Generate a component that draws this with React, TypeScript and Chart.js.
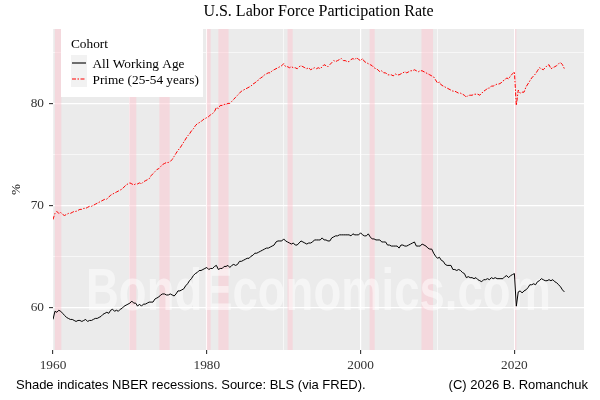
import { useEffect, useRef } from 'react'
import Chart from 'chart.js/auto'

// quarterly observations, first quarter of 1960 onwards
const START_YEAR = 1960
const allWorkingAge = [
  58.8, 59.6, 59.5, 59.7, // 1960
  59.6, 59.4, 59.2, 59.0,
  58.9, 58.8, 58.8, 58.7,
  58.6, 58.7, 58.7, 58.6,
  58.7, 58.8, 58.6, 58.7,
  58.7, 58.8, 58.9, 58.9, // 1965
  59.0, 59.1, 59.3, 59.4,
  59.5, 59.4, 59.7, 59.8,
  59.6, 59.7, 59.6, 59.8,
  59.9, 60.1, 60.2, 60.3,
  60.4, 60.6, 60.4, 60.4, // 1970
  60.1, 60.3, 60.1, 60.3,
  60.3, 60.4, 60.5, 60.5,
  60.5, 60.8, 60.9, 61.0,
  61.2, 61.3, 61.3, 61.2,
  61.2, 61.3, 61.2, 61.1, // 1975
  61.3, 61.6, 61.6, 61.7,
  61.8, 62.1, 62.3, 62.6,
  62.8, 63.1, 63.3, 63.4,
  63.6, 63.6, 63.7, 63.8,
  63.9, 63.7, 63.8, 63.8, // 1980
  64.0, 64.1, 63.7, 63.8,
  63.8, 64.0, 64.0, 64.1,
  63.9, 64.1, 64.2, 64.1,
  64.2, 64.5, 64.5, 64.6,
  64.7, 64.8, 64.8, 65.0, // 1985
  65.1, 65.3, 65.3, 65.4,
  65.5, 65.6, 65.7, 65.8,
  65.8, 65.9, 66.0, 66.1,
  66.4, 66.5, 66.5, 66.5,
  66.7, 66.5, 66.4, 66.3, // 1990
  66.2, 66.3, 66.1, 66.1,
  66.3, 66.5, 66.4, 66.3,
  66.2, 66.3, 66.3, 66.4,
  66.6, 66.6, 66.6, 66.6,
  66.8, 66.6, 66.6, 66.5, // 1995
  66.5, 66.8, 66.9, 67.0,
  67.0, 67.1, 67.1, 67.1,
  67.1, 67.1, 67.1, 67.0,
  67.2, 67.1, 67.1, 67.1,
  67.3, 67.1, 67.0, 67.0, // 2000
  67.2, 66.9, 66.7, 66.7,
  66.6, 66.6, 66.6, 66.4,
  66.4, 66.4, 66.1, 66.1,
  66.0, 66.0, 66.0, 66.0,
  65.8, 66.1, 66.1, 66.0, // 2005
  66.0, 66.1, 66.2, 66.3,
  66.4, 66.0, 66.0, 66.0,
  66.2, 66.1, 66.0, 65.8,
  65.7, 65.7, 65.3, 65.0,
  64.8, 64.9, 64.6, 64.5, // 2010
  64.2, 64.1, 64.1, 64.1,
  63.7, 63.7, 63.6, 63.7,
  63.6, 63.4, 63.3, 62.9,
  63.0, 62.9, 62.9, 62.8,
  62.9, 62.7, 62.6, 62.5, // 2015
  62.7, 62.7, 62.8, 62.7,
  62.9, 62.8, 62.9, 62.8,
  62.8, 62.8, 62.8, 63.0,
  63.1, 62.9, 63.1, 63.2,
  63.3, 60.1, 61.5, 61.6, // 2020
  61.4, 61.6, 61.7, 61.9,
  62.2, 62.2, 62.3, 62.2,
  62.5, 62.6, 62.8, 62.7,
  62.6, 62.6, 62.7, 62.6,
  62.7, 62.5, 62.4, 62.2, // 2025
  62.0, 61.7, 61.5,
]
const primeAge = [
  68.6, 69.2, 69.4, 69.2, // 1960
  69.3, 69.1, 69.0, 69.1,
  69.2, 69.2, 69.3, 69.4,
  69.4, 69.5, 69.6, 69.6,
  69.7, 69.7, 69.8, 69.9,
  69.9, 70.0, 70.1, 70.2, // 1965
  70.3, 70.4, 70.5, 70.6,
  70.6, 70.8, 71.0, 71.1,
  71.2, 71.3, 71.4, 71.5,
  71.6, 71.8, 72.0, 72.1,
  72.2, 72.1, 72.0, 72.1, // 1970
  72.1, 72.2, 72.1, 72.3,
  72.4, 72.5, 72.6, 72.9,
  73.1, 73.3, 73.5, 73.6,
  73.8, 74.0, 74.1, 74.2,
  74.2, 74.3, 74.5, 74.8, // 1975
  75.1, 75.4, 75.6, 75.9,
  76.2, 76.5, 76.8, 77.0,
  77.3, 77.5, 77.8, 78.0,
  78.1, 78.2, 78.4, 78.5,
  78.6, 78.7, 78.9, 79.0, // 1980
  79.2, 79.6, 79.5, 79.8,
  79.8, 79.9, 79.9, 80.0,
  80.0, 80.2, 80.4, 80.6,
  80.8, 81.0, 81.2, 81.3,
  81.4, 81.5, 81.6, 81.7, // 1985
  81.9, 82.0, 82.2, 82.3,
  82.5, 82.6, 82.8, 82.9,
  83.0, 83.0, 83.2, 83.3,
  83.4, 83.5, 83.6, 83.7,
  83.9, 83.6, 83.6, 83.5, // 1990
  83.6, 83.5, 83.5, 83.4,
  83.6, 83.7, 83.6, 83.5,
  83.4, 83.5, 83.3, 83.4,
  83.5, 83.4, 83.5, 83.4,
  83.6, 83.8, 83.7, 83.6, // 1995
  83.8, 84.0, 84.2, 84.1,
  84.2, 84.3, 84.4, 84.2,
  84.2, 84.1, 84.1, 84.3,
  84.4, 84.3, 84.5, 84.3,
  84.2, 84.4, 84.1, 84.0, // 2000
  83.9, 83.8, 83.7, 83.5,
  83.4, 83.3, 83.1, 83.2,
  83.0, 83.0, 82.8, 82.8,
  82.8, 82.7, 82.9, 82.8,
  82.8, 82.9, 83.0, 83.1, // 2005
  83.0, 83.1, 83.2, 83.2,
  83.3, 83.2, 83.1, 83.2,
  83.2, 83.1, 83.0, 82.9,
  82.8, 82.7, 82.6, 82.3,
  82.0, 82.1, 81.8, 81.7, // 2010
  81.6, 81.5, 81.4, 81.3,
  81.2, 81.2, 81.1, 81.0,
  81.0, 80.9, 80.8, 80.6,
  80.8, 80.8, 80.8, 80.9,
  80.9, 80.9, 80.8, 81.0, // 2015
  81.2, 81.3, 81.5, 81.5,
  81.7, 81.7, 81.8, 81.9,
  81.9, 82.0, 82.2, 82.3,
  82.5, 82.4, 82.7, 82.9,
  83.1, 79.8, 81.3, 81.0, // 2020
  81.1, 81.1, 81.6, 81.9,
  82.2, 82.5, 82.7, 82.9,
  83.2, 83.5, 83.4, 83.3,
  83.5, 83.7, 83.8, 83.4,
  83.5, 83.6, 83.7, 83.9, // 2025
  84.0, 83.8, 83.4,
]

// NBER recessions (decimal years)
const recessionStart = [1960.25, 1969.92, 1973.83, 1980.0, 1981.5, 1990.5, 2001.17, 2007.92, 2020.08]
const recessionEnd = [1961.08, 1970.83, 1975.17, 1980.5, 1982.83, 1991.17, 2001.83, 2009.42, 2020.25]

const xMajor = [1960, 1980, 2000, 2020]
const yMajor = [60, 70, 80]

const seriesNames = ['All Working Age', 'Prime (25-54 years)']
const seriesColors = ['#000000', '#ff0000']
const primeDash = [4, 1.5, 1.5, 1.5]

const toPoints = (vals: number[]) => vals.map((v, i) => ({ x: START_YEAR + i / 4, y: v }))

const decor = {
  id: 'decor',
  beforeDraw(chart: any) {
    const { ctx, chartArea: a } = chart
    ctx.save()
    ctx.fillStyle = '#ffffff'
    ctx.fillRect(0, 0, chart.width, chart.height)
    ctx.fillStyle = '#ebebeb'
    ctx.fillRect(a.left, a.top, a.right - a.left, a.bottom - a.top)
    ctx.restore()
  },
  beforeDatasetsDraw(chart: any) {
    const { ctx, chartArea: a, scales } = chart
    ctx.save()
    ctx.beginPath()
    ctx.rect(a.left, a.top, a.right - a.left, a.bottom - a.top)
    ctx.clip()
    ctx.fillStyle = 'rgba(255, 192, 203, 0.45)'
    recessionStart.forEach((s, i) => {
      const x1 = scales.x.getPixelForValue(s)
      const x2 = scales.x.getPixelForValue(recessionEnd[i])
      ctx.fillRect(x1, a.top, x2 - x1, a.bottom - a.top)
    })
    // watermark
    ctx.font = 'bold 60px "Liberation Sans", Arial, sans-serif'
    const text = 'BondEconomics.com'
    const w = ctx.measureText(text).width
    const sx = 465 / w
    ctx.translate((a.left + a.right) / 2, 310)
    ctx.scale(sx, 1)
    ctx.fillStyle = 'rgba(255, 255, 255, 0.5)'
    ctx.textAlign = 'center'
    ctx.textBaseline = 'alphabetic'
    ctx.fillText(text, 0, 0)
    ctx.restore()
  },
  afterDraw(chart: any) {
    const { ctx, chartArea: a } = chart
    ctx.save()
    // title
    ctx.fillStyle = '#000'
    ctx.font = '16px "Liberation Serif", "Times New Roman", serif'
    ctx.textAlign = 'center'
    ctx.textBaseline = 'alphabetic'
    ctx.fillText('U.S. Labor Force Participation Rate', (a.left + a.right) / 2, 16)

    // caption
    ctx.font = '13px "Liberation Sans", Arial, sans-serif'
    ctx.textAlign = 'left'
    ctx.fillText('Shade indicates NBER recessions. Source: BLS (via FRED).', 16, 389)
    ctx.textAlign = 'right'
    ctx.fillText('(C) 2026 B. Romanchuk', 588, 389)

    // legend
    const lx = a.left + 8
    const ly = a.top
    ctx.fillStyle = '#ffffff'
    ctx.fillRect(lx, ly, 142, 68)
    ctx.fillStyle = '#000'
    ctx.textAlign = 'left'
    ctx.font = '13.3px "Liberation Serif", "Times New Roman", serif'
    ctx.fillText('Cohort', lx + 10, ly + 18.5)
    seriesNames.forEach((name, i) => {
      const ky = ly + 26 + i * 16
      ctx.fillStyle = '#f2f2f2'
      ctx.fillRect(lx + 10, ky, 16, 16)
      ctx.strokeStyle = seriesColors[i]
      ctx.lineWidth = 1.1
      ctx.setLineDash(i === 1 ? primeDash : [])
      ctx.beginPath()
      ctx.moveTo(lx + 11, ky + 8)
      ctx.lineTo(lx + 25, ky + 8)
      ctx.stroke()
      ctx.setLineDash([])
      ctx.fillStyle = '#000'
      ctx.fillText(name, lx + 31.5, ky + 12.5)
    })
    ctx.restore()
  },
}

export default function App() {
  const chartRef = useRef<HTMLCanvasElement>(null)

  useEffect(() => {
    document.body.style.margin = '0'
    if (!chartRef.current) return
    const ctx = chartRef.current.getContext('2d')
    if (!ctx) return

    const serif = '"Liberation Serif", "Times New Roman", serif'
    const isMajorX = (v: number) => xMajor.includes(v)
    const isMajorY = (v: number) => yMajor.includes(v)

    const chart = new Chart(ctx, {
      type: 'line',
      data: {
        datasets: [
          {
            label: seriesNames[0],
            data: toPoints(allWorkingAge),
            borderColor: seriesColors[0],
            borderWidth: 1,
            pointRadius: 0,
            tension: 0,
          },
          {
            label: seriesNames[1],
            data: toPoints(primeAge),
            borderColor: seriesColors[1],
            borderWidth: 1,
            borderDash: primeDash,
            pointRadius: 0,
            tension: 0,
          },
        ],
      },
      options: {
        responsive: false,
        animation: false,
        layout: { padding: { top: 29, right: 16, left: 0, bottom: 0 } },
        plugins: {
          legend: { display: false },
          tooltip: { enabled: false },
          title: { display: false },
        },
        scales: {
          x: {
            type: 'linear',
            min: 1960,
            max: 2029.05,
            afterFit: (s: any) => {
              s.height = 50
            },
            border: { display: false },
            grid: {
              color: '#ffffff',
              lineWidth: (c: any) => (isMajorX(c.tick?.value) ? 1.2 : 0.6),
              tickColor: (c: any) => (isMajorX(c.tick?.value) ? '#333333' : 'rgba(0,0,0,0)'),
              tickWidth: 1.1,
              tickLength: 4,
            },
            ticks: {
              stepSize: 10,
              includeBounds: false,
              autoSkip: false,
              maxRotation: 0,
              padding: 4,
              color: '#333333',
              font: { family: serif, size: 13.3 },
              callback: (v: any) => (isMajorX(Number(v)) ? String(v) : ''),
            },
          },
          y: {
            min: 55.8,
            max: 87.3,
            afterFit: (s: any) => {
              s.width = 53
            },
            border: { display: false },
            title: {
              display: true,
              text: '%',
              color: '#000',
              font: { family: serif, size: 13.3 },
              padding: { top: 9, bottom: 0 },
            },
            grid: {
              color: '#ffffff',
              lineWidth: (c: any) => (isMajorY(c.tick?.value) ? 1.2 : 0.6),
              tickColor: (c: any) => (isMajorY(c.tick?.value) ? '#333333' : 'rgba(0,0,0,0)'),
              tickWidth: 1.1,
              tickLength: 4,
            },
            ticks: {
              stepSize: 5,
              includeBounds: false,
              padding: 5,
              color: '#333333',
              font: { family: serif, size: 13.3 },
              callback: (v: any) => (isMajorY(Number(v)) ? String(v) : ''),
            },
          },
        },
      },
      plugins: [decor],
    })

    return () => chart.destroy()
  }, [])

  return <canvas ref={chartRef} width={600} height={400} style={{ display: 'block' }} />
}
